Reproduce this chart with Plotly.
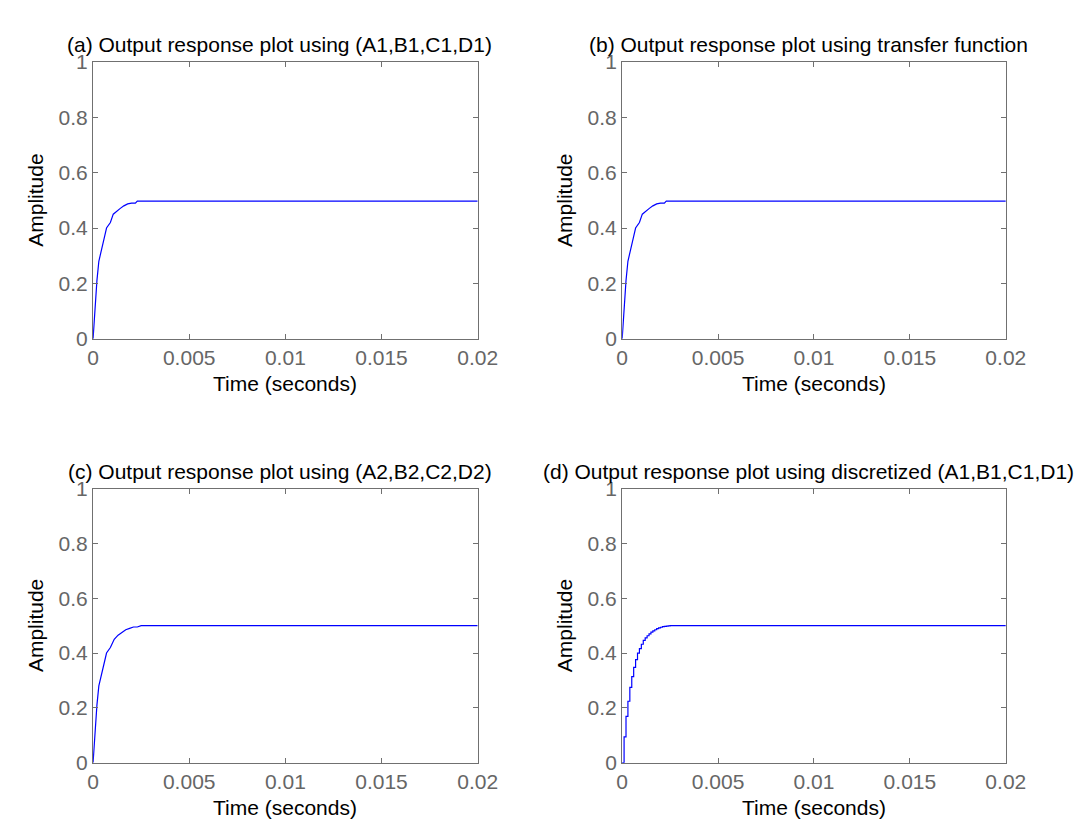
import plotly.graph_objects as go

# ---------------- data ----------------
# (a) continuous state-space (A1,B1,C1,D1)
t_a = [0, 0.0001, 0.0002, 0.0003, 0.00045, 0.0006, 0.0007, 0.0009, 0.00105, 0.0012,
       0.0014, 0.0016, 0.0018, 0.0020, 0.0022, 0.0023, 0.02]
y_a = [0, 0.12, 0.21, 0.28, 0.32, 0.37, 0.40, 0.42, 0.45, 0.46,
       0.47, 0.48, 0.487, 0.49, 0.49, 0.497, 0.497]

# (b) transfer function
t_b = [0, 0.0001, 0.0002, 0.0003, 0.00045, 0.0006, 0.0007, 0.0009, 0.00105, 0.0012,
       0.0014, 0.0016, 0.0018, 0.0020, 0.0022, 0.0023, 0.02]
y_b = [0, 0.12, 0.21, 0.28, 0.32, 0.37, 0.40, 0.42, 0.45, 0.46,
       0.47, 0.48, 0.487, 0.49, 0.49, 0.497, 0.497]

# (c) state-space (A2,B2,C2,D2)
t_c = [0, 0.0001, 0.0002, 0.0003, 0.00045, 0.0006, 0.0007, 0.0009, 0.0011, 0.0013,
       0.0015, 0.0017, 0.0019, 0.0021, 0.0023, 0.0025, 0.02]
y_c = [0, 0.12, 0.21, 0.28, 0.32, 0.37, 0.40, 0.42, 0.45, 0.465,
       0.475, 0.485, 0.49, 0.495, 0.495, 0.5, 0.5]

# (d) discretized (A1,B1,C1,D1), sample time 0.0001 s
t_d = [0, 0.0001, 0.0002, 0.0003, 0.0004, 0.0005, 0.0006, 0.0007, 0.0008, 0.0009,
       0.0010, 0.0011, 0.0012, 0.0013, 0.0014, 0.0015, 0.0016, 0.0017, 0.0018, 0.0019,
       0.0020, 0.0021, 0.0022, 0.0023, 0.0024, 0.0025, 0.02]
y_d = [0, 0.094, 0.169, 0.224, 0.275, 0.314, 0.348, 0.376, 0.40, 0.416,
       0.432, 0.446, 0.455, 0.463, 0.470, 0.476, 0.481, 0.485, 0.489, 0.492,
       0.494, 0.496, 0.497, 0.498, 0.499, 0.5, 0.5]

titles = ["(a) Output response plot using (A1,B1,C1,D1)",
          "(b) Output response plot using transfer function",
          "(c) Output response plot using (A2,B2,C2,D2)",
          "(d) Output response plot using discretized (A1,B1,C1,D1)"]
x_ticks = [0, 0.005, 0.01, 0.015, 0.02]
x_ticktext = ["0", "0.005", "0.01", "0.015", "0.02"]
y_ticks = [0, 0.2, 0.4, 0.6, 0.8, 1]
y_ticktext = ["0", "0.2", "0.4", "0.6", "0.8", "1"]
x_label = "Time (seconds)"
y_label = "Amplitude"

# ---------------- layout ----------------
W, H = 1092, 824
FONT = "Liberation Sans, Arial, sans-serif"
FS = 21
GRAY = "#666666"
AX = "#707070"

# pixel boxes (left, right, top, bottom)
boxes = [(81, 475, 43, 328), (623, 1016, 43, 328),
         (81, 475, 482, 764), (623, 1016, 482, 764)]

series = [(t_a, y_a, "linear"), (t_b, y_b, "linear"), (t_c, y_c, "linear"), (t_d, y_d, "hv")]

fig = go.Figure()
annotations = []
for i, ((l, r, tp, bt), (tx, ty, shape), title) in enumerate(zip(boxes, series, titles)):
    n = "" if i == 0 else str(i + 1)
    fig.add_trace(go.Scatter(x=tx, y=ty, mode="lines", line=dict(color="#0000ff", width=1.2, shape=shape),
                             xaxis="x" + n, yaxis="y" + n, showlegend=False, hoverinfo="skip"))
    axcommon = dict(showline=True, linecolor=AX, linewidth=1.3, mirror="ticks", ticks="inside",
                    ticklen=5, tickcolor=AX, tickwidth=1, showgrid=False, zeroline=False,
                    tickfont=dict(family=FONT, size=FS, color=GRAY))
    fig.layout["xaxis" + n] = dict(domain=[l / W, r / W], anchor="y" + n, range=[0, 0.02],
                                   tickvals=x_ticks, ticktext=x_ticktext, **axcommon)
    fig.layout["yaxis" + n] = dict(domain=[1 - bt / H, 1 - tp / H], anchor="x" + n, range=[0, 1],
                                   tickvals=y_ticks, ticktext=y_ticktext, **axcommon)
    cx = (l + r) / 2
    annotations.append(dict(text=title, x=(cx - 6) / W, y=1 - (tp - 4) / H, xref="paper", yref="paper",
                            xanchor="center", yanchor="bottom", showarrow=False,
                            font=dict(family=FONT, size=FS, color="black")))
    annotations.append(dict(text=x_label, x=cx / W, y=1 - (bt + 32) / H, xref="paper", yref="paper",
                            xanchor="center", yanchor="top", showarrow=False,
                            font=dict(family=FONT, size=FS, color="black")))
    annotations.append(dict(text=y_label, x=(l - 59) / W, y=1 - (tp + bt) / 2 / H, xref="paper",
                            yref="paper", xanchor="center", yanchor="middle", textangle=-90,
                            showarrow=False, font=dict(family=FONT, size=FS, color="black")))

fig.update_layout(width=W, height=H, margin=dict(l=0, r=0, t=0, b=0),
                  paper_bgcolor="white", plot_bgcolor="white", annotations=annotations)
fig.write_html("out.html")
